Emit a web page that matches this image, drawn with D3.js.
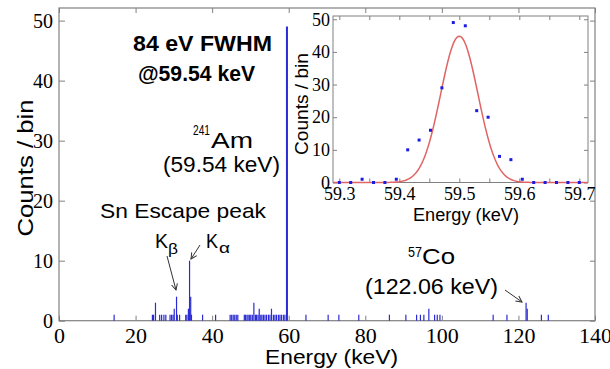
<!DOCTYPE html>
<html>
<head>
<meta charset="utf-8">
<script src="https://cdn.jsdelivr.net/npm/d3@7"></script>
<style>
  body { margin: 0; background: #fff; }
  svg { display: block; }
</style>
</head>
<body>
<div id="chart"></div>
<script>
// ********** SPECTRUM DATA **********

// main spectrum, one line per bin (keV, counts)
const barEnergy = [14.4, 24.4, 24.7, 25.2, 26.3, 26.8, 27.4, 27.9, 29.0, 29.4, 29.8, 30.1, 30.7, 30.9, 31.5,
	33.1, 33.4, 33.8, 34.1, 34.4, 34.6, 37.5, 40.9, 44.7, 45.1, 45.5, 45.9, 46.3, 46.7,
	48.4, 48.7, 49.1, 49.4, 49.8, 50.1, 50.5, 50.9, 51.3, 51.6, 52.0, 52.3, 52.7, 53.0, 53.4,
	53.8, 54.2, 54.7, 55.1, 55.5, 56.0, 56.4, 56.8, 57.3, 57.7, 58.1, 58.6, 59.0, 59.54,
	64.5, 70.3, 73.1, 78.3, 86.3, 90.6, 93.4, 94.4, 95.3, 96.6, 98.1, 98.8, 99.5,
	113.4, 117.0, 122.0, 122.3, 126.0, 127.8];
const barCounts = [1, 1, 1, 3, 1, 1, 1, 1, 1, 1, 1, 2, 4, 1, 1,
	1, 1, 2, 10, 4, 1, 1, 1, 1, 1, 1, 1, 1, 1,
	1, 1, 1, 1, 1, 1, 1, 3, 1, 1, 1, 2, 1, 1, 1,
	1, 1, 1, 1, 2, 1, 1, 1, 1, 1, 1, 1, 1, 49,
	1, 1, 1, 1, 1, 1, 1, 1, 1, 2, 1, 1, 1,
	1, 1, 3, 2, 1, 1];
const xTicks = [0, 20, 40, 60, 80, 100, 120, 140];
const yTicks = [0, 10, 20, 30, 40, 50];

// inset: zoom on the 241Am line
const insetEnergy = [59.300, 59.319, 59.338, 59.357, 59.376, 59.395, 59.414, 59.433, 59.452, 59.471, 59.490,
	59.510, 59.529, 59.548, 59.567, 59.586, 59.605, 59.624, 59.643, 59.662, 59.681, 59.700];
const insetCounts = [0, 0, 1, 0, 0, 1, 10, 13, 16, 29, 49, 48, 22, 20, 8, 7, 1, 0, 0, 0, 0, 0];
const insetXTicks = [59.3, 59.4, 59.5, 59.6, 59.7];
const insetXMinor = [59.3, 59.35, 59.4, 59.45, 59.5, 59.55, 59.6, 59.65, 59.7];
const insetYTicks = [0, 10, 20, 30, 40, 50];

// gaussian fit parameters (84 eV FWHM)
const fitAmp = 44.8;
const fitCenter = 59.5;
const fitSigma = 0.031;

const width = 610, height = 369;
const frameColor = "#808080";
const sans = "Liberation Sans, Arial, sans-serif";
const serif = "Liberation Serif, Times New Roman, serif";

const svg = d3.select("#chart")
	.append("svg")
	.attr("width", width)
	.attr("height", height);

// arrow head used by the annotations
svg.append("defs").append("marker")
	.attr("id", "head")
	.attr("markerUnits", "userSpaceOnUse")
	.attr("markerWidth", 8)
	.attr("markerHeight", 8)
	.attr("refX", 7)
	.attr("refY", 4)
	.attr("orient", "auto")
	.append("path")
	.attr("d", "M1,1 L7,4 L1,7")
	.attr("fill", "none")
	.attr("stroke", "#333")
	.attr("stroke-width", 1);

// ********** MAIN PLOT **********
const x = d3.scaleLinear().domain([0, 140]).range([59, 595]);
const y = d3.scaleLinear().domain([0, 52.1]).range([320.7, 8]);

const styleAxis = (g) => {
	g.select(".domain").remove();
	g.selectAll(".tick line").attr("stroke", frameColor);
	g.selectAll("text").attr("fill", "#000");
}

// serif tick labels, like the original
const serifLabels = (g, size) => {
	g.attr("font-family", serif).attr("font-size", size);
	g.selectAll("text")
		.style("font-family", serif)
		.style("font-size", size + "px");
}

svg.append("g")
	.attr("transform", `translate(0,${y(0)})`)
	.call(d3.axisBottom(x).tickValues(xTicks).tickSize(-5).tickFormat(d3.format("d")))
	.call(styleAxis)
	.call(serifLabels, 22)
	.call(g => g.selectAll("text").attr("y", 22.3).attr("dy", null));

svg.append("g")
	.attr("transform", `translate(${x(0)},0)`)
	.call(d3.axisLeft(y).tickValues(yTicks).tickSize(-6).tickPadding(6))
	.call(styleAxis)
	.call(serifLabels, 20);

// mirrored ticks on top and right
svg.append("g")
	.attr("transform", `translate(0,${y.range()[1]})`)
	.call(d3.axisTop(x).tickValues(xTicks).tickSize(-5).tickFormat(""))
	.call(styleAxis);

svg.append("g")
	.attr("transform", `translate(${x(140)},0)`)
	.call(d3.axisRight(y).tickValues(yTicks).tickSize(-5).tickFormat(""))
	.call(styleAxis);

svg.append("rect")
	.attr("x", x(0))
	.attr("y", y.range()[1])
	.attr("width", x(140) - x(0))
	.attr("height", y(0) - y.range()[1])
	.attr("fill", "none")
	.attr("stroke", frameColor)
	.attr("stroke-width", 1.2);

// spectrum lines
svg.selectAll("line.bar")
	.data(barEnergy)
	.enter()
	.append("line")
	.attr("class", "bar")
	.attr("x1", d => x(d))
	.attr("x2", d => x(d))
	.attr("y1", y(0))
	.attr("y2", (d, i) => y(barCounts[i]))
	.attr("stroke", "#2b2bd4")
	.attr("stroke-width", (d, i) => barCounts[i] > 20 ? 2 : 1.2);

// axis titles
svg.append("text")
	.attr("transform", "translate(33,168) rotate(-90)")
	.attr("text-anchor", "middle")
	.attr("textLength", 137)
	.attr("lengthAdjust", "spacingAndGlyphs")
	.style("font-family", sans).style("font-size", "22px")
	.text("Counts / bin");

svg.append("text")
	.attr("x", 265).attr("y", 364)
	.attr("textLength", 133)
	.attr("lengthAdjust", "spacingAndGlyphs")
	.style("font-family", sans).style("font-size", "21px")
	.text("Energy (keV)");

// ********** ANNOTATIONS **********
const label = (txt, px, py, len, size, weight) => {
	svg.append("text")
		.attr("x", px).attr("y", py)
		.attr("textLength", len)
		.attr("lengthAdjust", "spacingAndGlyphs")
		.style("font-family", sans)
		.style("font-size", size + "px")
		.style("font-weight", weight || "normal")
		.text(txt);
}

label("84 eV FWHM", 133, 51, 139, 22, "bold");
label("@59.54 keV", 138, 81, 117, 22, "bold");
label("241", 193, 135, 17, 14);
label("Am", 211, 148, 42, 22);
label("(59.54 keV)", 163, 172, 117, 22);
label("Sn Escape peak", 100, 218, 166, 21);
label("K", 155, 248, 13, 21);
label("\u03b2", 168, 254, 10, 15);
label("K", 206, 248, 12, 21);
label("\u03b1", 219, 253, 11, 15);
label("57", 408, 257, 14, 14);
label("Co", 422, 264, 33, 22);
label("(122.06 keV)", 365, 294, 133, 22);

const arrows = [
	[167, 256, 176, 290],
	[200, 245, 191, 259],
	[505, 290, 522, 302]
];
svg.selectAll("line.arrow")
	.data(arrows)
	.enter()
	.append("line")
	.attr("class", "arrow")
	.attr("x1", d => d[0]).attr("y1", d => d[1])
	.attr("x2", d => d[2]).attr("y2", d => d[3])
	.attr("stroke", "#333")
	.attr("stroke-width", 1)
	.attr("marker-end", "url(#head)");

// ********** INSET **********
const xi = d3.scaleLinear().domain([59.2895, 59.7145]).range([333, 588]);
const yi = d3.scaleLinear().domain([0, 51]).range([182.5, 16]);

svg.append("rect")
	.attr("x", xi.range()[0])
	.attr("y", yi.range()[1])
	.attr("width", xi.range()[1] - xi.range()[0])
	.attr("height", yi(0) - yi.range()[1])
	.attr("fill", "#fff");

svg.append("g")
	.attr("transform", `translate(0,${yi(0)})`)
	.call(d3.axisBottom(xi).tickValues(insetXMinor).tickSize(-4).tickFormat(""))
	.call(styleAxis);

svg.append("g")
	.attr("transform", `translate(0,${yi(0)})`)
	.call(d3.axisBottom(xi).tickValues(insetXTicks).tickSize(0).tickFormat(d3.format(".1f")))
	.call(styleAxis)
	.call(serifLabels, 18)
	.call(g => g.selectAll("text").attr("y", 17.5).attr("dy", null));

svg.append("g")
	.attr("transform", `translate(0,${yi.range()[1]})`)
	.call(d3.axisTop(xi).tickValues(insetXMinor).tickSize(-4).tickFormat(""))
	.call(styleAxis);

svg.append("g")
	.attr("transform", `translate(${xi.range()[0]},0)`)
	.call(d3.axisLeft(yi).tickValues(insetYTicks).tickSize(-4).tickPadding(3))
	.call(styleAxis)
	.call(serifLabels, 18);

svg.append("g")
	.attr("transform", `translate(${xi.range()[1]},0)`)
	.call(d3.axisRight(yi).tickValues(insetYTicks).tickSize(-4).tickFormat(""))
	.call(styleAxis);

svg.append("rect")
	.attr("x", xi.range()[0])
	.attr("y", yi.range()[1])
	.attr("width", xi.range()[1] - xi.range()[0])
	.attr("height", yi(0) - yi.range()[1])
	.attr("fill", "none")
	.attr("stroke", frameColor)
	.attr("stroke-width", 1);

// fitted gaussian
const fitLine = d3.line()
	.x(d => xi(d))
	.y(d => yi(fitAmp * Math.exp(-0.5 * Math.pow((d - fitCenter) / fitSigma, 2))));

svg.append("path")
	.datum(d3.range(59.2895, 59.7145, 0.002))
	.attr("d", fitLine)
	.attr("fill", "none")
	.attr("stroke", "#e06464")
	.attr("stroke-width", 1.5);

svg.selectAll("rect.pt")
	.data(insetEnergy)
	.enter()
	.append("rect")
	.attr("class", "pt")
	.attr("x", d => xi(d) - 1.5)
	.attr("y", (d, i) => yi(insetCounts[i]) - 1.5)
	.attr("width", 3)
	.attr("height", 3)
	.attr("fill", "#1c1ce0");

svg.append("text")
	.attr("transform", "translate(308,104) rotate(-90)")
	.attr("text-anchor", "middle")
	.attr("textLength", 102)
	.attr("lengthAdjust", "spacingAndGlyphs")
	.style("font-family", sans).style("font-size", "18px")
	.text("Counts / bin");

svg.append("text")
	.attr("x", 413).attr("y", 221)
	.attr("textLength", 106)
	.attr("lengthAdjust", "spacingAndGlyphs")
	.style("font-family", sans).style("font-size", "18px")
	.text("Energy (keV)");
</script>
</body>
</html>
